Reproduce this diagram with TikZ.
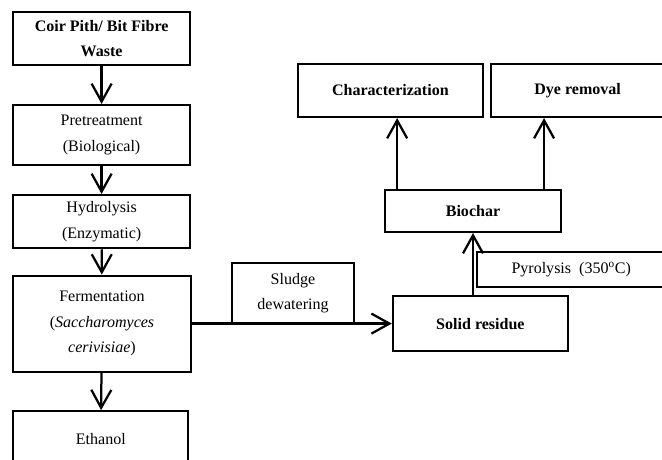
\documentclass[tikz,border=0pt]{standalone}
\usepackage{fontspec}
\setmainfont{Liberation Serif}
\usepackage{tikz}
\usetikzlibrary{arrows.meta, positioning}

\begin{document}
\begin{tikzpicture}[
      every node/.style={font=\fontsize{11.4}{18}\selectfont},
      bx/.style={draw=black, line width=1.5pt, fill=white, inner sep=2pt,
                 align=center},
      bxb/.style={bx, font=\fontsize{11.4}{18}\selectfont\bfseries},
      ar/.style={-{Straight Barb[length=4.5mm, width=5mm, line width=1.6pt]},
                 line width=1.6pt}
    ]
      \useasboundingbox (0,0) rectangle (16.55,-11.5);

      % left column
      \node[bxb, minimum width=4.43cm, minimum height=1.33cm] (coir) at (2.54,-0.96)
        {Coir Pith/ Bit Fibre\\Waste};
      \node[bx, minimum width=4.43cm, minimum height=1.5cm] (pre) at (2.54,-3.375)
        {Pretreatment\\(Biological)};
      \node[bx, minimum width=4.43cm, minimum height=1.33cm] (hyd) at (2.54,-5.54)
        {Hydrolysis\\(Enzymatic)};
      \node[bx, minimum width=4.43cm, minimum height=2.4cm] (fer) at (2.55,-8.09)
        {Fermentation\\(\textit{Saccharomyces}\\\textit{cerivisiae})};
      \node[bx, minimum width=4.38cm, minimum height=1.4cm] (eth) at (2.52,-10.98)
        {Ethanol};
      \draw[ar] (coir)--(pre);
      \draw[ar] (pre)--(hyd);
      \draw[ar] (hyd)--(fer);
      \draw[ar] (fer)--(eth);

      % residue branch
      \node[bx, minimum width=3.05cm, minimum height=1.5cm] (sludge) at (7.325,-7.325)
        {Sludge\\dewatering};
      \node[bxb, minimum width=4.38cm, minimum height=1.38cm] (solid) at (12.01,-8.09)
        {Solid residue};
      \draw[ar] (fer.east)--(solid.west);

      % pyrolysis
      \node[bx, minimum width=4.7cm, minimum height=0.88cm] (pyro) at (14.28,-6.74)
        {Pyrolysis~ (350\textsuperscript{o}C)};
      \node[bxb, minimum width=4.4cm, minimum height=1.05cm] (biochar) at (11.825,-5.275)
        {Biochar};
      \draw[ar] (solid.north -| biochar.south)--(biochar.south);

      % uses
      \node[bxb, minimum width=4.63cm, minimum height=1.33cm] (charac) at (9.76,-2.26)
        {Characterization};
      \node[bxb, minimum width=4.33cm, minimum height=1.33cm] (dye) at (14.44,-2.26)
        {Dye removal};
      \draw[ar] ([xshift=0.33cm]biochar.north west)--([xshift=0.33cm]biochar.north west |- charac.south);
      \draw[ar] ([xshift=-0.45cm]biochar.north east)--([xshift=-0.45cm]biochar.north east |- dye.south);
    \end{tikzpicture}
\end{document}
